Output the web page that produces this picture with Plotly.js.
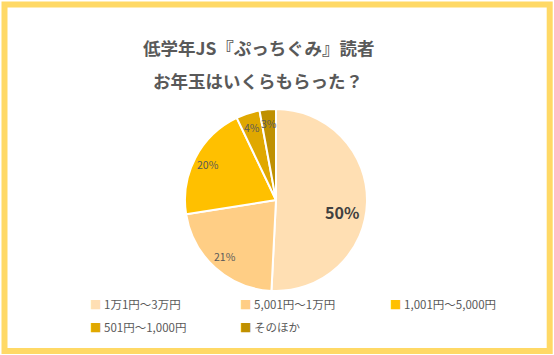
<!DOCTYPE html>
<html><head><meta charset="utf-8">
<script src="https://cdn.plot.ly/plotly-3.0.1.min.js"></script>
<style>html,body{margin:0;padding:0;background:#fff}#c{width:554px;height:355px}</style>
</head><body><div id="c"></div>
<script>
const categories = ['1万1円～3万円','5,001円～1万円','1,001円～5,000円','501円～1,000円','そのほか'];
const values = [50.8, 21.7, 20.4, 4.2, 2.9];
const valueLabels = ['50%','21%','20%','4%','3%'];
const colors = ['#FFDFB3','#FFCE85','#FFC000','#E0A800','#BF9000'];
const titleLines = ['低学年JS『ぷっちぐみ』読者','お年玉はいくらもらった？'];

const W=554,H=355;
const font="'Noto Sans CJK JP', 'Noto Sans', sans-serif";
const cx=276, cy=200, r=91;
const trace={
  type:'pie', values:values, labels:categories,
  textinfo:'none', sort:false, direction:'clockwise', rotation:0,
  marker:{colors:colors, line:{color:'#ffffff', width:2}},
  domain:{x:[(cx-r)/W,(cx+r)/W], y:[(H-cy-r)/H,(H-cy+r)/H]},
  hoverinfo:'none', showlegend:false
};
const ann=[];
titleLines.forEach((t,i)=>ann.push({text:'<b>'+t+'</b>', x:258/W, y:(H-(47+i*33))/H, xref:'paper', yref:'paper',
  showarrow:false, xanchor:'center', yanchor:'middle', font:{family:font,size:17.5,color:'#595959'}}));
// slice labels placed along each slice's mid angle (derived from values)
const total=values.reduce((a,b)=>a+b,0);
let cum=0;
values.forEach((v,i)=>{
  const mid=(cum+v/2)/total*2*Math.PI; cum+=v;
  const k = i===0?0.73:0.84;
  const px=cx+Math.sin(mid)*r*k, py=cy-Math.cos(mid)*r*k;
  ann.push({text:i===0?'<b>'+valueLabels[i]+'</b>':valueLabels[i], x:px/W, y:(H-py)/H, xref:'paper', yref:'paper',
    showarrow:false, xanchor:'center', yanchor:'middle', yshift:i===0?-10:0,
    font:{family:font,size:i===0?16:10.5,color:i===0?'#404040':'#595959'}});
});
// legend (3 columns)
categories.forEach((c,i)=>{
  const col=i%3,row=Math.floor(i/3);
  const lx=88+col*150, ly=304+row*23;
  ann.push({text:'<span style="color:'+colors[i]+'">■</span> '+c, x:lx/W, y:(H-ly)/H, xref:'paper', yref:'paper',
    showarrow:false, xanchor:'left', yanchor:'middle', font:{family:font,size:11.5,color:'#595959'}});
});
const layout={
  width:W,height:H,margin:{l:0,r:0,t:0,b:0},
  paper_bgcolor:'#ffffff', showlegend:false,
  annotations:ann,
  shapes:[{type:'rect', xref:'paper', yref:'paper', x0:4.5/W, x1:549.7/W, y0:(H-351)/H, y1:(H-4.5)/H,
    line:{color:'#FFD966', width:6}, fillcolor:'rgba(0,0,0,0)'}]
};
Plotly.newPlot('c',[trace],layout,{displayModeBar:false,staticPlot:true});
</script></body></html>
